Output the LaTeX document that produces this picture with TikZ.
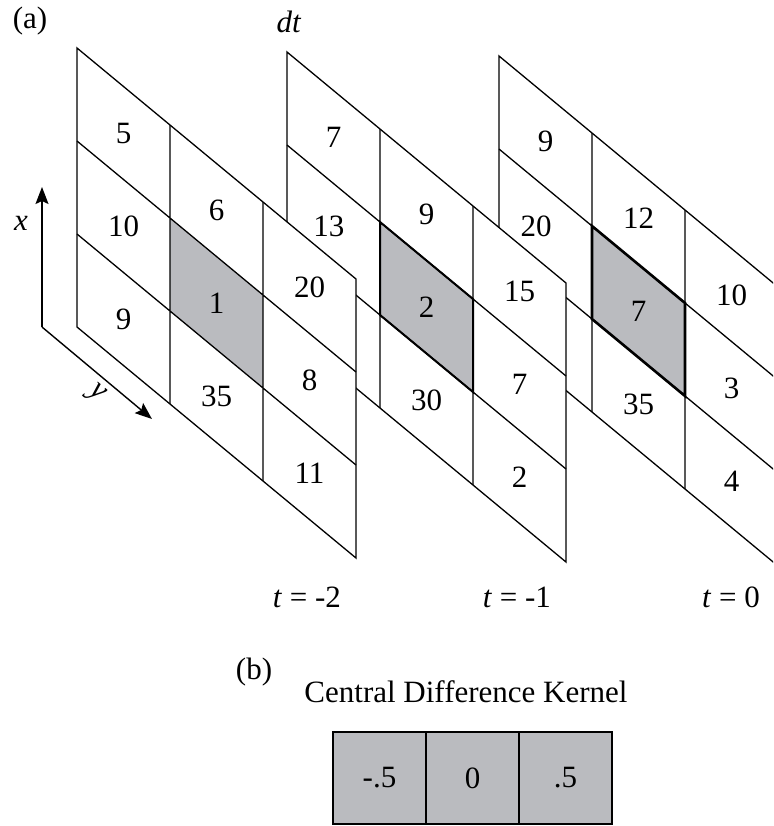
\documentclass[tikz,border=0pt]{standalone}
\usepackage{fontspec}
\setmainfont{Liberation Serif}
\usepackage{tikz}
\usetikzlibrary{arrows.meta,positioning}

\definecolor{cellgray}{RGB}{186,187,191}

\begin{document}
\begin{tikzpicture}[
    x=0.5pt,
    y=-0.5pt,
    txt/.style={font=\fontsize{15.5}{18}\selectfont, inner sep=0pt},
    gridline/.style={line width=0.65pt},
    hotcell/.style={line width=1.3pt},
    axis/.style={-{Stealth[length=8.5pt,width=6.5pt,inset=1.5pt]}, line width=0.7pt},
    kcell/.style={draw, fill=cellgray, line width=1pt, minimum width=46.5pt, minimum height=46pt, inner sep=0pt, outer sep=0pt, font=\fontsize{15.5}{18}\selectfont},
    layer/.style={x={(46.5pt,-38.5pt)}, y={(0pt,-46.5pt)}}
  ]
    \useasboundingbox (0,0) rectangle (773,826);
    \clip (0,0) rectangle (773,826);

    % -- layer t = 0 (back) --
    \begin{scope}[shift={(499,56)}, layer]
      \fill[white] (0,0) -- (3,0) -- (3,3) -- (0,3) -- cycle;
      \fill[cellgray] (1,1) -- (2,1) -- (2,2) -- (1,2) -- cycle;
      \draw[gridline] (0,0) -- (3,0) -- (3,3) -- (0,3) -- cycle;
      \draw[gridline] (1,0) -- (1,3) (2,0) -- (2,3) (0,1) -- (3,1) (0,2) -- (3,2);
      \draw[hotcell] (1,1) -- (2,1) -- (2,2) -- (1,2) -- cycle;
      \node[txt] (c11) at (0.5,0.5) {9};
      \node[txt] (c21) at (0.4,1.5) {20};
      \node[txt] (c12) at (1.5,0.5) {12};
      \node[txt] (c22) at (1.5,1.5) {7};
      \node[txt] (c32) at (1.5,2.5) {35};
      \node[txt] (c13) at (2.5,0.5) {10};
      \node[txt] (c23) at (2.5,1.5) {3};
      \node[txt] (c33) at (2.5,2.5) {4};
    \end{scope}

    % -- layer t = -1 --
    \begin{scope}[shift={(287,52)}, layer]
      \fill[white] (0,0) -- (3,0) -- (3,3) -- (0,3) -- cycle;
      \fill[cellgray] (1,1) -- (2,1) -- (2,2) -- (1,2) -- cycle;
      \draw[gridline] (0,0) -- (3,0) -- (3,3) -- (0,3) -- cycle;
      \draw[gridline] (1,0) -- (1,3) (2,0) -- (2,3) (0,1) -- (3,1) (0,2) -- (3,2);
      \draw[line width=1pt] (1,1) -- (2,1) -- (2,2) -- (1,2) -- cycle;
      \node[txt] (b11) at (0.5,0.5) {7};
      \node[txt] (b21) at (0.45,1.5) {13};
      \node[txt] (b12) at (1.5,0.5) {9};
      \node[txt] (b22) at (1.5,1.5) {2};
      \node[txt] (b32) at (1.5,2.5) {30};
      \node[txt] (b13) at (2.5,0.5) {15};
      \node[txt] (b23) at (2.5,1.5) {7};
      \node[txt] (b33) at (2.5,2.5) {2};
    \end{scope}

    % -- layer t = -2 (front) --
    \begin{scope}[shift={(77,48)}, layer]
      \fill[white] (0,0) -- (3,0) -- (3,3) -- (0,3) -- cycle;
      \fill[cellgray] (1,1) -- (2,1) -- (2,2) -- (1,2) -- cycle;
      \draw[gridline] (0,0) -- (3,0) -- (3,3) -- (0,3) -- cycle;
      \draw[gridline] (1,0) -- (1,3) (2,0) -- (2,3) (0,1) -- (3,1) (0,2) -- (3,2);
      \node[txt] (a11) at (0.5,0.5) {5};
      \node[txt] (a21) at (0.5,1.5) {10};
      \node[txt] (a31) at (0.5,2.5) {9};
      \node[txt] (a12) at (1.5,0.5) {6};
      \node[txt] (a22) at (1.5,1.5) {1};
      \node[txt] (a32) at (1.5,2.5) {35};
      \node[txt] (a13) at (2.5,0.5) {20};
      \node[txt] (a23) at (2.5,1.5) {8};
      \node[txt] (a33) at (2.5,2.5) {11};
    \end{scope}

    % -- axes --
    \coordinate (orig) at (42,327);
    \coordinate (xend) at (42,187);
    \coordinate (yend) at (152,419);
    \draw[axis] (orig) -- (xend);
    \draw[axis] (orig) -- (yend);
    \node[txt] (xlab) at (21,223) {\textit{x}};
    \node[txt, rotate=-40] (ylab) at (96,394) {\textit{y}};

    % -- titles and time labels --
    \node[txt] (parta) at (30,21) {(a)};
    \node[txt] (dtlab) at (289,22) {\textit{dt}};
    \node[txt] (t2) at (307,597) {\textit{t} = -2};
    \node[txt] (t1) at (517,597) {\textit{t} = -1};
    \node[txt] (t0) at (731,597) {\textit{t} = 0};

    % -- (b) kernel --
    \node[txt] (partb) at (254,672) {(b)};
    \node[txt] (ktitle) at (466,692) {Central Difference Kernel};
    \node[kcell] (k1) at (379.5,778) {-.5};
    \node[kcell, right=0pt of k1] (k2) {0};
    \node[kcell, right=0pt of k2] (k3) {.5};
  \end{tikzpicture}
\end{document}
